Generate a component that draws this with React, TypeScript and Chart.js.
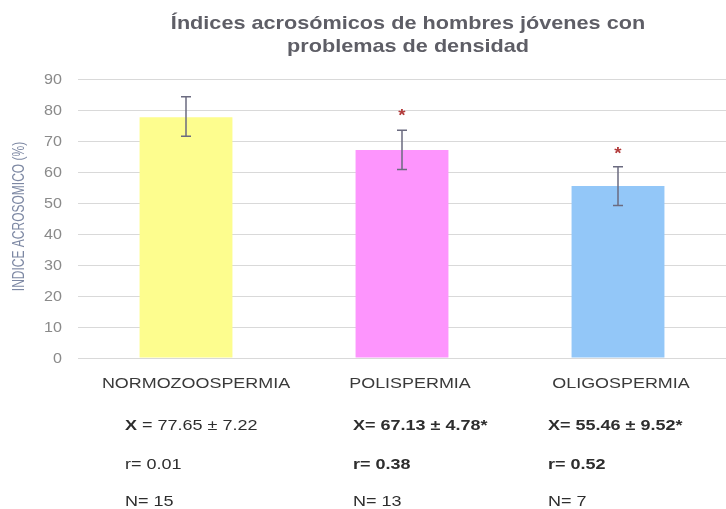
import React, { useEffect, useRef } from "react";
import { Chart, registerables } from "chart.js";

Chart.register(...registerables);

const titleLines = ["Índices acrosómicos de hombres jóvenes con", "problemas de densidad"];
const yAxisTitle = "INDICE ACROSOMICO (%)";
const categories = ["NORMOZOOSPERMIA", "POLISPERMIA", "OLIGOSPERMIA"];
const means = [77.65, 67.13, 55.46];
const errLow = [71.5, 60.8, 49.2];
const errHigh = [84.3, 73.5, 61.7];
const starValues: (number | null)[] = [null, 79.6, 67.3];
const barColors = ["#fdfd8e", "#fd95fd", "#93c7f8"];
const meanBold = ["X", "X= 67.13 ± 4.78*", "X= 55.46 ± 9.52*"];
const meanNormal = [" = 77.65 ± 7.22", "", ""];
const rTexts = ["r= 0.01", "r= 0.38", "r= 0.52"];
const rBold = [false, true, true];
const nTexts = ["N= 15", "N= 13", "N= 7"];
const yTicks = [0, 10, 20, 30, 40, 50, 60, 70, 80, 90];

const FONT = "'Liberation Sans', Arial, sans-serif";

function stretchText(
  ctx: CanvasRenderingContext2D,
  text: string,
  x: number,
  y: number,
  font: string,
  color: string,
  align: CanvasTextAlign,
  sx: number
) {
  ctx.save();
  ctx.font = font;
  ctx.fillStyle = color;
  ctx.textAlign = align;
  ctx.textBaseline = "alphabetic";
  ctx.translate(x, y);
  ctx.scale(sx, 1);
  ctx.fillText(text, 0, 0);
  const w = ctx.measureText(text).width * sx;
  ctx.restore();
  return w;
}

const overlayPlugin = {
  id: "overlay",
  afterDatasetsDraw(chart: any) {
    const ctx = chart.ctx;
    const x = chart.scales.x;
    const y = chart.scales.y;
    ctx.save();
    ctx.strokeStyle = "#6b6b80";
    ctx.lineWidth = 1.5;
    means.forEach((_, i) => {
      const cx = x.getPixelForValue(i);
      const yt = y.getPixelForValue(errHigh[i]);
      const yb = y.getPixelForValue(errLow[i]);
      ctx.beginPath();
      ctx.moveTo(cx, yt);
      ctx.lineTo(cx, yb);
      ctx.moveTo(cx - 5, yt);
      ctx.lineTo(cx + 5, yt);
      ctx.moveTo(cx - 5, yb);
      ctx.lineTo(cx + 5, yb);
      ctx.stroke();
    });
    ctx.restore();
    starValues.forEach((v, i) => {
      if (v == null) return;
      stretchText(ctx, "*", x.getPixelForValue(i), y.getPixelForValue(v) + 10, `bold 17px ${FONT}`, "#b23a3a", "center", 1.1);
    });
  },
  afterDraw(chart: any) {
    const ctx = chart.ctx;
    const x = chart.scales.x;
    const y = chart.scales.y;
    const area = chart.chartArea;
    // title
    const tcx = (area.left + area.right) / 2 + 6;
    titleLines.forEach((line, i) => {
      stretchText(ctx, line, tcx, 28.5 + i * 23.3, `bold 19px ${FONT}`, "#5e5e66", "center", 1.14);
    });
    // y ticks
    yTicks.forEach((v) => {
      stretchText(ctx, String(v), area.left - 16, y.getPixelForValue(v) + 5, `14px ${FONT}`, "#8a8a8a", "right", 1.15);
    });
    // y axis title (rotated)
    ctx.save();
    ctx.translate(20, (area.top + area.bottom) / 2 - 2);
    ctx.rotate(-Math.PI / 2);
    ctx.scale(1, 1.3);
    ctx.font = `12px ${FONT}`;
    ctx.fillStyle = "#7d88a3";
    ctx.textAlign = "center";
    ctx.textBaseline = "middle";
    ctx.fillText(yAxisTitle, 0, 0);
    ctx.restore();
    // category labels
    const labelShift = [10, 8, 3];
    categories.forEach((c, i) => {
      stretchText(ctx, c, x.getPixelForValue(i) + labelShift[i], 388, `14px ${FONT}`, "#3a3a3a", "center", 1.28);
    });
    // rows below
    const rowLeft = [-61, -49, -70];
    categories.forEach((_, i) => {
      const lx = x.getPixelForValue(i) + rowLeft[i];
      const w = stretchText(ctx, meanBold[i], lx, 430, `bold 15px ${FONT}`, "#2e2e2e", "left", 1.2);
      stretchText(ctx, meanNormal[i], lx + w, 430, `15px ${FONT}`, "#2e2e2e", "left", 1.2);
      stretchText(ctx, rTexts[i], lx, 468.5, `${rBold[i] ? "bold " : ""}15px ${FONT}`, "#2e2e2e", "left", 1.2);
      stretchText(ctx, nTexts[i], lx, 506, `15px ${FONT}`, "#2e2e2e", "left", 1.2);
    });
  },
};

export default function App() {
  const ref = useRef<HTMLCanvasElement>(null);
  useEffect(() => {
    if (!ref.current) return;
    const chart = new Chart(ref.current, {
      type: "bar",
      data: {
        labels: categories,
        datasets: [
          {
            data: means,
            backgroundColor: barColors,
            categoryPercentage: 1,
            barPercentage: 0.43,
          },
        ],
      },
      options: {
        animation: false,
        responsive: false,
        maintainAspectRatio: false,
        layout: { padding: { left: 78, right: 0, top: 79, bottom: 151 } },
        plugins: {
          legend: { display: false },
          tooltip: { enabled: false },
          title: { display: false },
        },
        scales: {
          x: {
            grid: { display: false, drawTicks: false },
            border: { display: false },
            ticks: { display: false },
          },
          y: {
            min: 0,
            max: 90,
            afterBuildTicks: (scale: any) => {
              scale.ticks = yTicks.map((v) => ({ value: v }));
            },
            grid: { color: "#d9d9d9", lineWidth: 1, drawTicks: false },
            border: { display: false },
            ticks: { display: false },
          },
        },
      },
      plugins: [overlayPlugin],
    });
    return () => chart.destroy();
  }, []);
  return (
    <div style={{ position: "fixed", left: 0, top: 0, width: 726, height: 509, background: "#fff" }}>
      <canvas ref={ref} width={726} height={509} style={{ width: 726, height: 509 }} />
    </div>
  );
}
